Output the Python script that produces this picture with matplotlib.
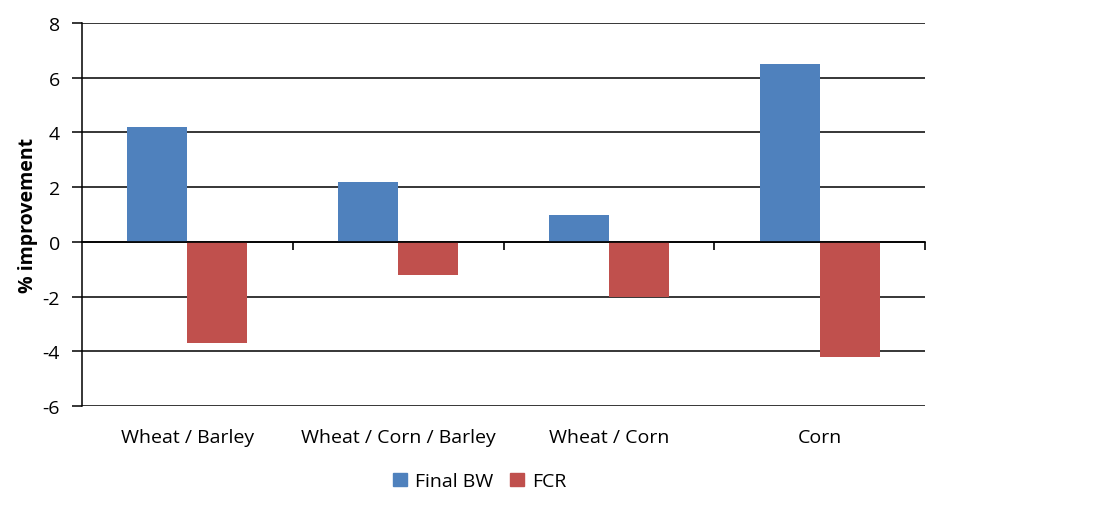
import matplotlib
matplotlib.use("Agg")
import matplotlib.pyplot as plt
import numpy as np
from matplotlib.patches import Patch

categories = ["Wheat / Barley", "Wheat / Corn / Barley", "Wheat / Corn", "Corn"]
final_bw = [4.2, 2.2, 1.0, 6.5]
fcr = [-3.7, -1.2, -2.0, -4.2]
series_names = ["Final BW", "FCR"]
y_ticks = [-6, -4, -2, 0, 2, 4, 6, 8]

BLUE = "#4F81BD"
RED = "#C0504D"
FONT = "Open Sans"
FS = 14

plt.rcParams['font.family'] = [FONT, 'DejaVu Sans']

fig = plt.figure(figsize=(11, 5.06), dpi=100)
ax = fig.add_axes([82/1100, 99/506, 843/1100, 383/506])

x = np.arange(len(categories))
w = 0.285
ax.bar(x - w/2, final_bw, width=w, color=BLUE, zorder=3)
ax.bar(x + w/2, fcr, width=w, color=RED, zorder=3)

ax.set_xlim(-0.5, len(categories) - 0.5)
ax.set_ylim(y_ticks[0], y_ticks[-1])
ax.set_yticks(y_ticks)
ax.set_yticklabels([str(v) for v in y_ticks], fontsize=FS)
ax.yaxis.grid(True, color="black", lw=1.1, zorder=1)
ax.tick_params(axis="y", length=7, width=1.1, color="black", pad=9)

for s in ["top", "right"]:
    ax.spines[s].set_visible(False)
ax.spines["left"].set_linewidth(1.1)
ax.spines["bottom"].set_position(("data", 0))
ax.spines["bottom"].set_linewidth(1.2)
ax.spines["bottom"].set_zorder(4)
ax.set_xticks(np.append(x[1:] - 0.5, len(categories) - 0.5))
ax.set_xticklabels([])
ax.tick_params(axis="x", direction="out", length=6, width=1.2)

sec = ax.secondary_xaxis(location=0)
sec.set_xticks(x)
sec.set_xticklabels(categories, fontsize=FS)
sec.tick_params(length=0, pad=16)
sec.spines["bottom"].set_visible(False)

ax.set_ylabel("% improvement", fontsize=FS, fontweight="bold", labelpad=3)

handles = [Patch(color=BLUE), Patch(color=RED)]
fig.legend(handles, series_names, loc="center", bbox_to_anchor=(0.436, 0.047),
           ncol=2, frameon=False, fontsize=FS, handlelength=0.7, handleheight=0.7,
           handletextpad=0.4, columnspacing=0.9)

fig.savefig("out.png", dpi=100)
